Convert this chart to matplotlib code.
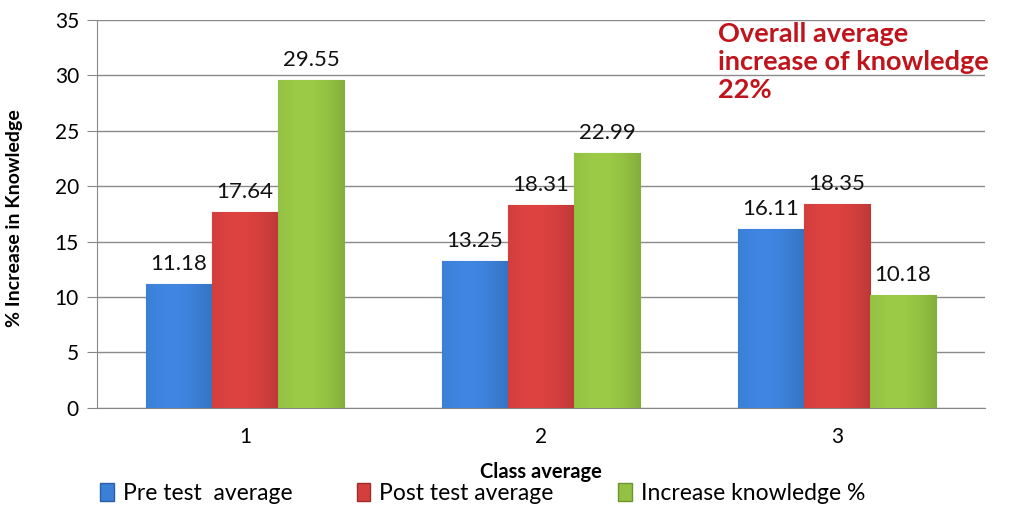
import numpy as np
import matplotlib.pyplot as plt
from matplotlib.patches import Patch
from matplotlib.colors import to_rgb

plt.rcParams['font.family'] = ['Lato', 'DejaVu Sans']

# class averages
classes = ['1', '2', '3']
pre_test = [11.18, 13.25, 16.11]
post_test = [17.64, 18.31, 18.35]
increase = [29.55, 22.99, 10.18]

series_names = ['Pre test  average', 'Post test average', 'Increase knowledge %']
colors = ['#3C7FD6', '#D23F3D', '#93C143']
edge_colors = ['#2A5FA8', '#A02C2A', '#6E9430']

fig = plt.figure(figsize=(10.16, 5.08), dpi=100)
ax = fig.add_axes([0.0955, 0.197, 0.874, 0.764])


def shade(bar, color):
    # soft horizontal gradient inside each bar
    r, g, b = to_rgb(color)
    t = np.linspace(0, 1, 64)
    k = 1.0 + 0.10 * np.sin(np.pi * t) - 0.10 * t
    img = np.clip(np.stack([r * k, g * k, b * k], axis=-1), 0, 1)[None, :, :]
    x0, y0 = bar.get_x(), bar.get_y()
    im = ax.imshow(img, extent=[x0, x0 + bar.get_width(), y0, y0 + bar.get_height()],
                   aspect='auto', zorder=3.1, interpolation='bilinear')
    im.set_clip_path(bar)


x = np.arange(len(classes))
width = 0.223
for i, (vals, col, ec) in enumerate(zip([pre_test, post_test, increase], colors, edge_colors)):
    pos = x + (i - 1) * width
    bars = ax.bar(pos, vals, width, color=col, edgecolor=ec, linewidth=0.8, zorder=3)
    for b, v in zip(bars, vals):
        shade(b, col)
        ax.text(b.get_x() + b.get_width() / 2, v + 0.9, f'{v:.2f}',
                ha='center', va='bottom', fontsize=16, color='#111111', zorder=4)

ax.set_xlim(-0.5, 2.5)
ax.set_ylim(0, 35)
ax.set_yticks(range(0, 36, 5))
ax.set_xticks(x)
ax.set_xticklabels(classes)
ax.tick_params(axis='y', labelsize=15, length=7, color='#888888', pad=6)
ax.tick_params(axis='x', labelsize=15, length=0, pad=14)
ax.yaxis.grid(True, color='#8a8a8a', linewidth=1.0, zorder=0)
for s in ['top', 'right']:
    ax.spines[s].set_visible(False)
for s in ['left', 'bottom']:
    ax.spines[s].set_color('#888888')

ax.set_ylabel('% Increase in Knowledge', fontsize=14, fontweight='bold', labelpad=8)
ax.yaxis.set_label_coords(-0.083, 0.49)
ax.set_xlabel('Class average', fontsize=14.5, fontweight='bold')
ax.xaxis.set_label_coords(0.5, -0.14)

ax.text(0.699, 0.995, 'Overall average\nincrease of knowledge\n22%', transform=ax.transAxes,
        ha='left', va='top', fontsize=19.5, fontweight='bold', color='#C0141C',
        linespacing=1.2)

handles = [Patch(facecolor=c, edgecolor=e) for c, e in zip(colors, edge_colors)]
fig.legend(handles, series_names, loc='lower left', bbox_to_anchor=(0.078, -0.032),
           ncol=3, frameon=False, fontsize=16.5, handlelength=0.6, handleheight=0.85,
           handletextpad=0.4, columnspacing=2.8)

fig.savefig('out.png', dpi=100)
